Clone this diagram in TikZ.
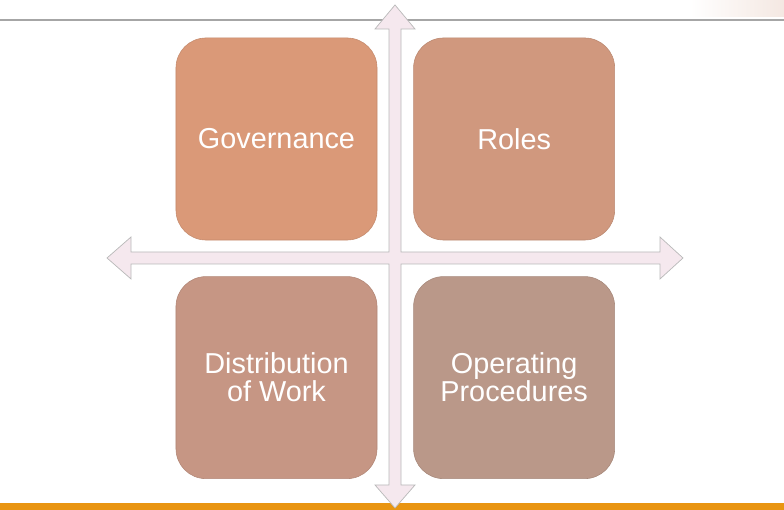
\documentclass[tikz,border=0pt]{standalone}
\usepackage{fontspec}
\setmainfont{Liberation Sans}
\usetikzlibrary{positioning}

\definecolor{govcol}{RGB}{218,153,120}
\definecolor{rolcol}{RGB}{208,152,126}
\definecolor{discol}{RGB}{198,150,132}
\definecolor{opcol}{RGB}{186,152,137}
\definecolor{crosscol}{RGB}{245,232,238}
\definecolor{barcol}{RGB}{233,149,18}

\tikzset{
    tile/.style={rounded corners=0.75cm, minimum width=5.025cm, minimum height=5.05cm,
        inner sep=0pt, align=center, text=white, draw=#1!90!black, line width=0.4pt,
        fill=#1, font=\fontsize{20.5}{20}\selectfont},
}

\begin{document}
\begin{tikzpicture}[x=0.025cm, y=-0.025cm]
\useasboundingbox (0,0) rectangle (784,510);

% header rule and faint corner swoosh
\shade[left color=white, right color={rgb,255:red,244;green,232;blue,226}] (690,0) rectangle (784,17);
\draw[gray!70, line width=0.9pt] (0,20) -- (784,20);

% footer bar
\fill[barcol] (0,503) rectangle (784,510);

% the four tiles
\node[tile=govcol] (gov) at (276.5,139) {Governance};
\node[tile=rolcol, right=0.9cm of gov] (roles) {Roles};
\node[tile=discol, below=0.9cm of gov] (dist) {Distribution\\of Work};
\node[tile=opcol, below=0.9cm of roles] (ops) {Operating\\Procedures};

% the cross with four arrow heads
\filldraw[fill=crosscol, draw=gray!55, line width=0.5pt]
    (395,5) -- (415,29) -- (401,29) -- (401,252) -- (660,252) -- (660,237)
    -- (683,258) -- (660,279) -- (660,264) -- (401,264) -- (401,485)
    -- (415,485) -- (395,508) -- (375,485) -- (389,485) -- (389,264)
    -- (131,264) -- (131,279) -- (107,258) -- (131,237) -- (131,252)
    -- (389,252) -- (389,29) -- (375,29) -- cycle;
\end{tikzpicture}
\end{document}
